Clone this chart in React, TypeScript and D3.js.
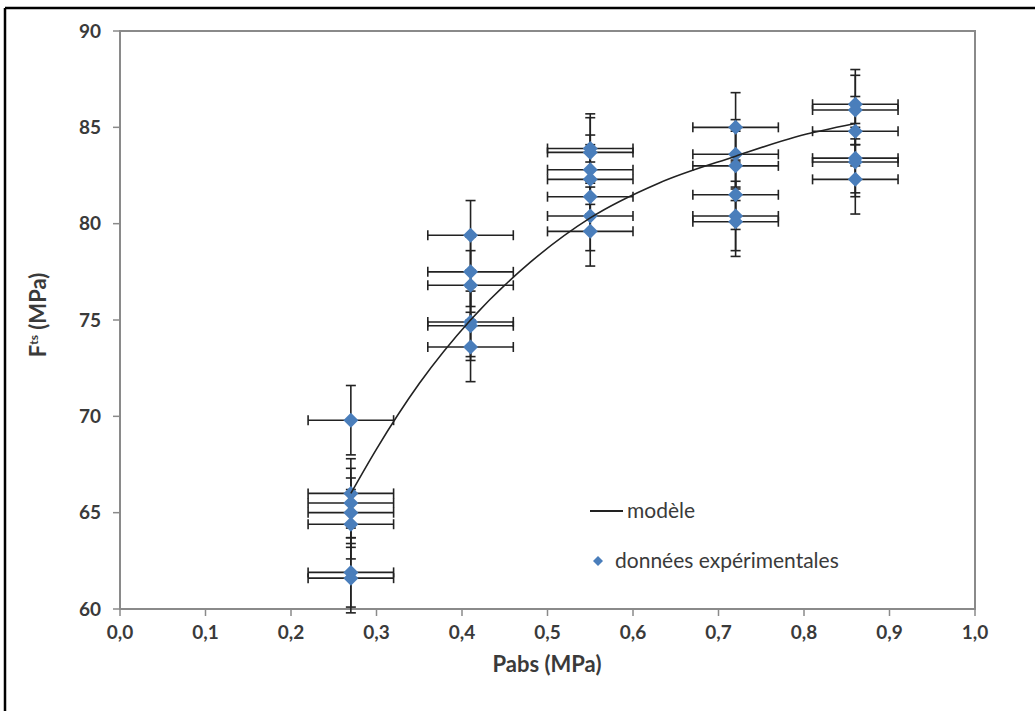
import React from "react";
import * as d3 from "d3";

const W = 1035;
const H = 711;

const groupX: number[] = [0.27, 0.41, 0.55, 0.72, 0.86];
const group027: number[] = [69.8, 66.0, 65.5, 65.0, 64.4, 61.9, 61.6];
const group041: number[] = [79.4, 77.5, 76.8, 74.9, 74.7, 73.6];
const group055: number[] = [83.9, 83.7, 82.8, 82.3, 81.4, 80.4, 79.6];
const group072: number[] = [85.0, 83.6, 83.0, 81.5, 80.4, 80.1];
const group086: number[] = [86.2, 85.9, 84.8, 83.4, 83.2, 82.3];
const groups: number[][] = [group027, group041, group055, group072, group086];
const xErr = 0.05;
const yErr = 1.8;

const modelX: number[] = [0.27, 0.3, 0.35, 0.41, 0.48, 0.55, 0.63, 0.72, 0.79, 0.86];
const modelY: number[] = [66.0, 68.3, 71.7, 75.0, 78.0, 80.3, 82.1, 83.5, 84.5, 85.2];

const xTicks: number[] = [0, 0.1, 0.2, 0.3, 0.4, 0.5, 0.6, 0.7, 0.8, 0.9, 1.0];
const yTicks: number[] = [60, 65, 70, 75, 80, 85, 90];

const FONT = "Lato, 'Open Sans', 'Liberation Sans', sans-serif";
const BLUE = "#4a7ebb";
const TXT = "#3a3a3a";

export default function App() {
  const x = d3.scaleLinear().domain([0, 1]).range([120, 975]);
  const y = d3.scaleLinear().domain([60, 90]).range([609, 31]);

  const pts: { x: number; y: number }[] = [];
  groups.forEach((g, i) => g.forEach((v) => pts.push({ x: groupX[i], y: v })));

  const line = d3
    .line<number>()
    .x((_, i) => x(modelX[i]))
    .y((d) => y(d))
    .curve(d3.curveMonotoneX);

  const diamond = (cx: number, cy: number, r: number) =>
    `M${cx},${cy - r}L${cx + r},${cy}L${cx},${cy + r}L${cx - r},${cy}Z`;

  const cap = 5;

  return (
    <svg
      width={W}
      height={H}
      style={{ position: "absolute", left: 0, top: 0, background: "#fff" }}
    >
      {/* outer frame */}
      <line x1={5} y1={8} x2={W} y2={8} stroke="#000" strokeWidth={2.5} />
      <line x1={5} y1={8} x2={5} y2={H} stroke="#000" strokeWidth={2.5} />

      {/* plot frame */}
      <rect
        x={x(0)}
        y={y(90)}
        width={x(1) - x(0)}
        height={y(60) - y(90)}
        fill="none"
        stroke="#8a8a8a"
        strokeWidth={2}
      />

      {/* y ticks */}
      {yTicks.map((t) => (
        <g key={"y" + t}>
          <line x1={x(0) - 7} x2={x(0)} y1={y(t)} y2={y(t)} stroke="#8a8a8a" strokeWidth={1.5} />
          <text
            x={x(0) - 19}
            y={y(t)}
            dy="0.35em"
            textAnchor="end"
            fontFamily={FONT}
            fontSize={19}
            fontWeight={700}
            fill={TXT}
          >
            {t}
          </text>
        </g>
      ))}

      {/* x ticks */}
      {xTicks.map((t) => (
        <g key={"x" + t}>
          <line x1={x(t)} x2={x(t)} y1={y(60)} y2={y(60) + 7} stroke="#8a8a8a" strokeWidth={1.5} />
          <text
            x={x(t)}
            y={632}
            dy="0.35em"
            textAnchor="middle"
            fontFamily={FONT}
            fontSize={19}
            fontWeight={700}
            fill={TXT}
          >
            {t.toFixed(1).replace(".", ",")}
          </text>
        </g>
      ))}

      {/* axis titles */}
      <text
        x={547}
        y={664}
        dy="0.35em"
        textAnchor="middle"
        fontFamily={FONT}
        fontSize={22}
        fontWeight={700}
        fill={TXT}
      >
        Pabs (MPa)
      </text>
      <text
        transform={`translate(46,315) rotate(-90)`}
        textAnchor="middle"
        fontFamily={FONT}
        fontSize={22}
        fontWeight={700}
        fill={TXT}
      >
        F<tspan fontSize={12} dy={-8}>ts</tspan>
        <tspan dy={8}> (MPa)</tspan>
      </text>

      {/* error bars */}
      {pts.map((p, i) => (
        <g key={"e" + i} stroke="#222" strokeWidth={1.6}>
          <line x1={x(p.x - xErr)} x2={x(p.x + xErr)} y1={y(p.y)} y2={y(p.y)} />
          <line x1={x(p.x - xErr)} x2={x(p.x - xErr)} y1={y(p.y) - cap} y2={y(p.y) + cap} />
          <line x1={x(p.x + xErr)} x2={x(p.x + xErr)} y1={y(p.y) - cap} y2={y(p.y) + cap} />
          <line x1={x(p.x)} x2={x(p.x)} y1={y(p.y - yErr)} y2={y(p.y + yErr)} />
          <line x1={x(p.x) - cap} x2={x(p.x) + cap} y1={y(p.y - yErr)} y2={y(p.y - yErr)} />
          <line x1={x(p.x) - cap} x2={x(p.x) + cap} y1={y(p.y + yErr)} y2={y(p.y + yErr)} />
        </g>
      ))}

      {/* markers */}
      {pts.map((p, i) => (
        <path key={"m" + i} d={diamond(x(p.x), y(p.y), 7.5)} fill={BLUE} />
      ))}

      {/* model line */}
      <path d={line(modelY) || ""} fill="none" stroke="#222" strokeWidth={1.6} />

      {/* legend */}
      <line x1={590} x2={623} y1={511} y2={511} stroke="#222" strokeWidth={1.8} />
      <text x={627} y={511} dy="0.35em" fontFamily={FONT} fontSize={21} fill={TXT}>
        modèle
      </text>
      <path d={diamond(598, 561, 5)} fill={BLUE} />
      <text x={615} y={561} dy="0.35em" fontFamily={FONT} fontSize={21} fill={TXT}>
        données expérimentales
      </text>
    </svg>
  );
}
